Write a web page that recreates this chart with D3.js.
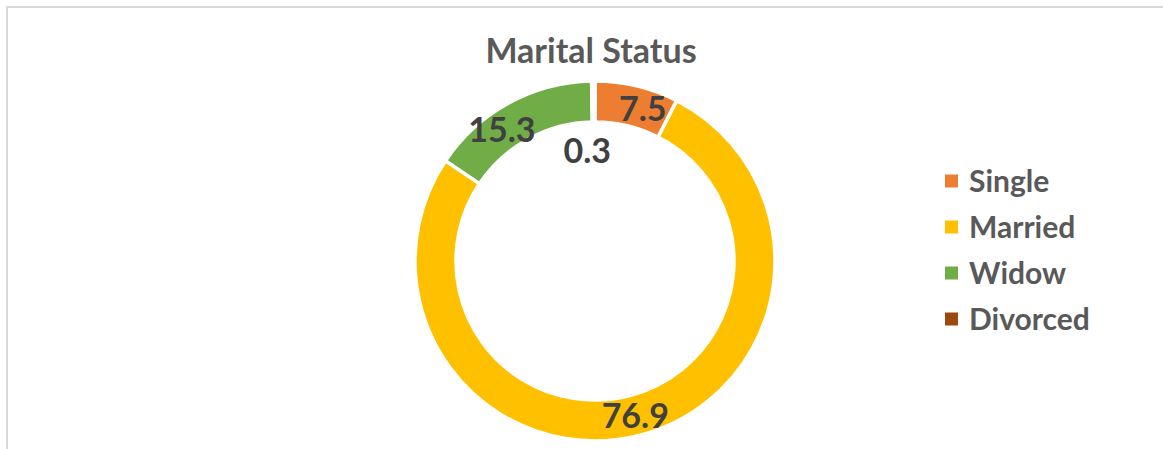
<!DOCTYPE html>
<html>
<head>
<meta charset="utf-8">
<script src="https://cdn.jsdelivr.net/npm/d3@7"></script>
<style>
  html, body { margin: 0; padding: 0; background: #fff; }
  svg { display: block; }
</style>
</head>
<body>
<svg id="chart" width="1163" height="449"></svg>
<script>
const categories = ["Single", "Married", "Widow", "Divorced"];
const values = [7.5, 76.9, 15.3, 0.3];
const colors = ["#ED7D31", "#FFC000", "#70AD47", "#9E480E"];
// label placement tweaks (degrees offset, radius) mimicking the spreadsheet's overlap handling
const labelAngleNudge = [3.9, 0, -6.7, -3.5];
const labelRadius = [160, 160, 161, 111];

const W = 1163, H = 449;
const cx = 595, cy = 261, rOuter = 180, rInner = 139;

const svg = d3.select("#chart");

// chart border
svg.append("path")
  .attr("d", `M7,${H} L7,7 L${W},7`)
  .attr("fill", "none")
  .attr("stroke", "#d9d9d9")
  .attr("stroke-width", 2);

svg.append("text")
  .attr("x", 591)
  .attr("y", 63)
  .attr("text-anchor", "middle")
  .attr("font-family", "Lato, 'Open Sans', sans-serif")
  .attr("font-weight", "bold")
  .attr("font-size", 34)
  .attr("fill", "#595959")
  .text("Marital Status");

const pie = d3.pie().sort(null).value(d => d)(values);
const arc = d3.arc().innerRadius(rInner).outerRadius(rOuter);

const g = svg.append("g").attr("transform", `translate(${cx},${cy})`);
g.selectAll("path.slice")
  .data(pie)
  .join("path")
  .attr("class", "slice")
  .attr("d", arc)
  .attr("fill", (d, i) => colors[i])
  .attr("stroke", "#fff")
  .attr("stroke-width", 3.5)
  .attr("stroke-linejoin", "miter");

g.selectAll("text.lbl")
  .data(pie)
  .join("text")
  .attr("class", "lbl")
  .attr("x", (d, i) => {
    const a = (d.startAngle + d.endAngle) / 2 + labelAngleNudge[i] * Math.PI / 180;
    return labelRadius[i] * Math.sin(a);
  })
  .attr("y", (d, i) => {
    const a = (d.startAngle + d.endAngle) / 2 + labelAngleNudge[i] * Math.PI / 180;
    return -labelRadius[i] * Math.cos(a);
  })
  .attr("dy", "0.36em")
  .attr("text-anchor", "middle")
  .attr("font-family", "Lato, 'Open Sans', sans-serif")
  .attr("font-weight", "bold")
  .attr("font-size", 34)
  .attr("fill", "#404040")
  .text((d, i) => values[i]);

const legend = svg.append("g").attr("transform", "translate(945,181)");
const rows = legend.selectAll("g.row")
  .data(categories)
  .join("g")
  .attr("class", "row")
  .attr("transform", (d, i) => `translate(0,${i * 46})`);
rows.append("rect")
  .attr("x", 0).attr("y", -6.5)
  .attr("width", 13).attr("height", 13)
  .attr("fill", (d, i) => colors[i]);
rows.append("text")
  .attr("x", 24)
  .attr("y", 0)
  .attr("dy", "0.36em")
  .attr("font-family", "Lato, 'Open Sans', sans-serif")
  .attr("font-weight", "bold")
  .attr("font-size", 30)
  .attr("fill", "#595959")
  .text(d => d);
</script>
</body>
</html>
